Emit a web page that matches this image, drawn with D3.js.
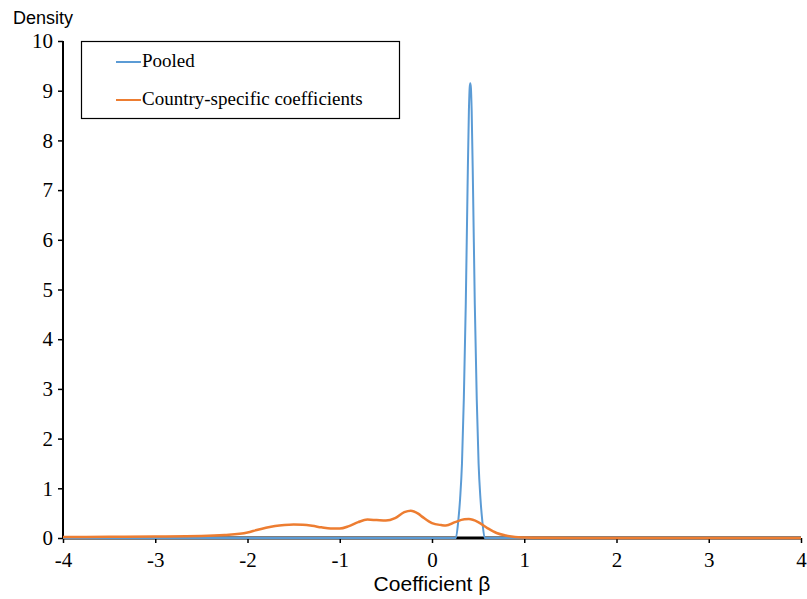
<!DOCTYPE html>
<html>
<head>
<meta charset="utf-8">
<script src="https://cdn.jsdelivr.net/npm/d3@7"></script>
<style>
  html, body { margin: 0; padding: 0; background: #fff; }
  svg { display: block; }
</style>
</head>
<body>
<svg id="chart" width="807" height="599"></svg>
<script>
// ---- data ----
const xTicks = [-4, -3, -2, -1, 0, 1, 2, 3, 4];
const yTicks = [0, 1, 2, 3, 4, 5, 6, 7, 8, 9, 10];
const seriesNames = ["Pooled", "Country-specific coefficients"];

const pooledX = [-4, -1, 0, 0.20, 0.258, 0.285, 0.305, 0.325, 0.345, 0.366, 0.385, 0.400, 0.408, 0.415, 0.422, 0.430, 0.445, 0.464, 0.485, 0.505, 0.525, 0.545, 0.572, 0.63, 1, 4];
const pooledY = [0, 0, 0, 0, 0, 0.35, 0.8, 1.5, 2.8, 4.7, 7.0, 8.6, 9.05, 9.15, 9.05, 8.6, 7.0, 4.7, 2.8, 1.5, 0.8, 0.35, 0, 0, 0, 0];

const countryX = [-4, -3.5, -3, -2.5, -2.25, -2, -1.9, -1.8, -1.7, -1.6, -1.5, -1.4, -1.3, -1.2, -1.1, -1.0, -0.9, -0.8, -0.7, -0.6, -0.5, -0.4, -0.3, -0.23, -0.15, -0.1, 0, 0.1, 0.15, 0.25, 0.35, 0.4, 0.5, 0.6, 0.7, 0.8, 0.9, 1.0, 1.2, 2, 3, 4];
const countryY = [0.02, 0.025, 0.03, 0.04, 0.06, 0.11, 0.16, 0.205, 0.24, 0.26, 0.27, 0.265, 0.245, 0.215, 0.19, 0.19, 0.24, 0.32, 0.37, 0.36, 0.35, 0.40, 0.52, 0.55, 0.49, 0.42, 0.30, 0.26, 0.25, 0.32, 0.375, 0.38, 0.32, 0.20, 0.10, 0.05, 0.02, 0.01, 0.003, 0.002, 0.001, 0.001];

const colors = ["#5B9BD5", "#ED7D31"];

// ---- layout ----
const svg = d3.select("#chart");
const x = d3.scaleLinear().domain([-4, 4]).range([63, 801]);
const y = d3.scaleLinear().domain([0, 10]).range([538, 41]);

const serif = "'Liberation Serif', 'Times New Roman', serif";
const sans = "'Liberation Sans', Arial, sans-serif";

// y axis
const yAxis = svg.append("g").attr("transform", `translate(${x(-4)},0)`)
  .call(d3.axisLeft(y).tickValues(yTicks).tickSize(5).tickPadding(5).tickFormat(d3.format("d")));
yAxis.select(".domain").attr("stroke", "#000").attr("stroke-width", 2).attr("d", `M0,${y(10)}V${y(0)}`);
yAxis.selectAll(".tick line").attr("stroke", "#000").attr("stroke-width", 1.5);
yAxis.selectAll("text").attr("font-family", serif).attr("font-size", 21).attr("fill", "#000");

// x axis
const xAxis = svg.append("g").attr("transform", `translate(0,${y(0)})`)
  .call(d3.axisBottom(x).tickValues(xTicks).tickSize(5).tickPadding(9).tickFormat(d3.format("d")));
xAxis.select(".domain").attr("stroke", "#000").attr("stroke-width", 3).attr("d", `M${x(-4)},0H${x(4)}`);
xAxis.selectAll(".tick line").attr("stroke", "#000").attr("stroke-width", 1.5);
xAxis.selectAll("text").attr("font-family", serif).attr("font-size", 21).attr("fill", "#000")
  .text(d => d < 0 ? "-" + Math.abs(d) : d);

// lines
const line = d3.line().x(d => x(d[0])).y(d => y(d[1]));
svg.append("path")
  .datum(pooledX.map((v, i) => [v, pooledY[i]]))
  .attr("fill", "none").attr("stroke", colors[0]).attr("stroke-width", 2)
  .attr("stroke-linejoin", "round")
  .attr("d", line.curve(d3.curveMonotoneX));
svg.append("path")
  .datum(countryX.map((v, i) => [v, countryY[i]]))
  .attr("fill", "none").attr("stroke", colors[1]).attr("stroke-width", 2.5)
  .attr("stroke-linejoin", "round")
  .attr("d", line.curve(d3.curveMonotoneX));

// axis titles
svg.append("text").attr("x", 13).attr("y", 24).attr("font-family", sans).attr("font-size", 18)
  .attr("fill", "#000").text("Density");
svg.append("text").attr("x", x(0)).attr("y", 591).attr("text-anchor", "middle")
  .attr("font-family", sans).attr("font-size", 21).attr("fill", "#000").text("Coefficient β");

// legend
const lg = svg.append("g");
lg.append("rect").attr("x", 81.5).attr("y", 41.5).attr("width", 318).attr("height", 77)
  .attr("fill", "#fff").attr("stroke", "#000").attr("stroke-width", 1.2);
seriesNames.forEach((name, i) => {
  const yy = 62 + i * 38;
  lg.append("line").attr("x1", 116).attr("x2", 141).attr("y1", yy).attr("y2", yy)
    .attr("stroke", colors[i]).attr("stroke-width", 2);
  lg.append("text").attr("x", 142).attr("y", yy + 5).attr("font-family", serif).attr("font-size", 19)
    .attr("fill", "#000").text(name);
});
</script>
</body>
</html>
